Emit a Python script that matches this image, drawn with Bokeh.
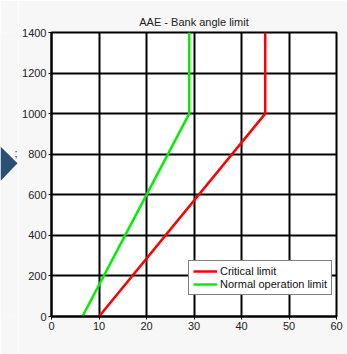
from bokeh.plotting import figure
from bokeh.layouts import row
from bokeh.models import Range1d, Legend, LegendItem, Label, FixedTicker
from bokeh.core.properties import value
from bokeh.embed import file_html
from bokeh.resources import INLINE

# data
crit_phi = [10, 45, 45]
crit_alt = [0, 1000, 1400]
norm_phi = [6.5, 29, 29]
norm_alt = [0, 1000, 1400]
x_ticks = [0, 10, 20, 30, 40, 50, 60]
y_ticks = [0, 200, 400, 600, 800, 1000, 1200, 1400]

# slide decoration at the left edge (arrow tip), in page pixels
deco_x = [0, 17, 0]
deco_y = [142, 163, 185]

FONT = "Liberation Sans"
BG = "#f7f7f7"
DECO_W = 18

# decoration strip
d = figure(width=DECO_W, height=354, output_backend="svg", toolbar_location=None,
           x_range=Range1d(0, DECO_W), y_range=Range1d(354, 0),
           x_axis_type=None, y_axis_type=None,
           min_border_left=0, min_border_right=0, min_border_top=0, min_border_bottom=0)
d.outline_line_color = None
d.background_fill_color = BG
d.border_fill_color = BG
d.grid.visible = False
d.patch(deco_x, deco_y, fill_color="#2c4f76", line_color=None)
d.text(x=[14], y=[143], text=[";"], text_baseline="top", text_font=value(FONT),
       text_font_size="11px", text_color="#333333")

p = figure(width=347 - DECO_W, height=354, output_backend="svg", toolbar_location=None,
           x_range=Range1d(0, 60), y_range=Range1d(0, 1400),
           min_border_left=51 - DECO_W, min_border_right=11, min_border_top=32, min_border_bottom=38)
p.background_fill_color = "white"
p.border_fill_color = BG
p.outline_line_color = "black"
p.outline_line_width = 2

p.title.text = "AAE - Bank angle limit"
p.title.align = "center"
p.title.text_font = FONT
p.title.text_font_size = "11px"
p.title.text_font_style = "normal"
p.title.text_color = "#222222"

for ax in (p.xaxis[0], p.yaxis[0]):
    ax.major_label_text_font = FONT
    ax.major_label_text_font_size = "11px"
    ax.major_label_text_color = "#222222"
    ax.axis_line_color = "black"
    ax.axis_line_width = 2
    ax.major_tick_line_color = "black"
    ax.major_tick_in = 0
    ax.major_tick_out = 3
    ax.minor_tick_line_color = None
    ax.major_label_standoff = 2
p.xaxis.ticker = FixedTicker(ticks=x_ticks)
p.yaxis.ticker = FixedTicker(ticks=y_ticks)

for g in (p.xgrid[0], p.ygrid[0]):
    g.grid_line_color = "black"
    g.grid_line_width = 2
    g.grid_line_alpha = 1.0
p.xgrid.ticker = FixedTicker(ticks=x_ticks)
p.ygrid.ticker = FixedTicker(ticks=y_ticks)

r1 = p.line(crit_phi, crit_alt, line_color="#ff0000", line_width=2.5)
r2 = p.line(norm_phi, norm_alt, line_color="#00f000", line_width=2.5)

legend = Legend(items=[LegendItem(label="Critical limit", renderers=[r1]),
                       LegendItem(label="Normal operation limit", renderers=[r2])],
                location=(137, 21), margin=0, padding=4, spacing=1,
                glyph_width=24, glyph_height=12, label_height=12, label_standoff=3,
                label_text_font=FONT, label_text_font_size="11px",
                label_text_color="#111111",
                border_line_color="black", border_line_width=1.5,
                background_fill_color="white", background_fill_alpha=1.0)
p.add_layout(legend, "center")

# x axis label with subscript
p.add_layout(Label(x=30, y=0, x_offset=-30, y_offset=-17, text="Φ", text_align="left",
                   text_baseline="top", text_font=FONT, text_font_size="11px", text_color="#222222"))
p.add_layout(Label(x=30, y=0, x_offset=-21, y_offset=-24, text="max", text_align="left",
                   text_baseline="top", text_font=FONT, text_font_size="9px", text_color="#222222"))
p.add_layout(Label(x=30, y=0, x_offset=0, y_offset=-17, text="[deg]", text_align="left",
                   text_baseline="top", text_font=FONT, text_font_size="11px", text_color="#222222"))

layout = row(d, p, spacing=0)
html = file_html(layout, INLINE)
html = html.replace("<body>", '<body style="background:%s">' % BG, 1)
open("out.html", "w").write(html)
